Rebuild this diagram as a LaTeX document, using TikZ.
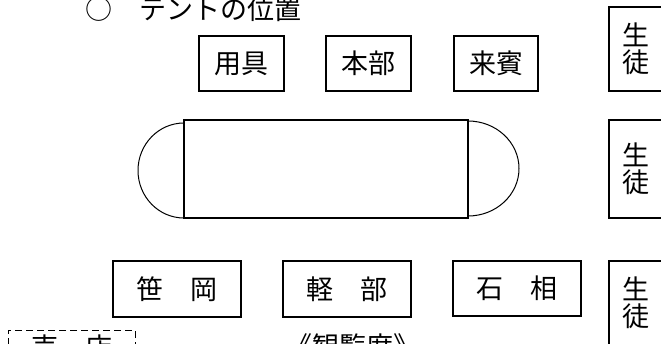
\documentclass[tikz,border=0pt]{standalone}
\usepackage{fontspec}
\newfontfamily\cjk{Noto Sans CJK JP}
\tikzset{
  lbl/.style={font=\cjk\fontsize{27}{27}\selectfont, inner sep=0pt},
  tent/.style={draw, line width=1.6pt, inner sep=0pt, font=\cjk\fontsize{27}{27}\selectfont},
  vtent/.style={tent, align=center},
  tentarc/.style={draw, line width=1pt},
  shop/.style={draw, dashed, dash pattern=on 7pt off 4pt, line width=0.8pt, inner sep=0pt, font=\cjk\fontsize{27}{27}\selectfont}
}
\begin{document}
\begin{tikzpicture}[x=1pt,y=1pt]
\clip (0,0) rectangle (661,343);
\fill[white] (0,0) rectangle (661,343);
% title
\node[lbl, anchor=west] (title) at (85,334) {○　テントの位置};
% top row
\node[tent, minimum width=85pt, minimum height=55pt] (yougu) at (241.5,279.5) {用具};
\node[tent, minimum width=85pt, minimum height=55pt] (honbu) at (368.5,279.5) {本部};
\node[tent, minimum width=84pt, minimum height=55pt] (raihin) at (496,279.5) {来賓};
% track
\node[draw, line width=1.6pt, minimum width=284pt, minimum height=98pt, inner sep=0pt] (track) at (326,174) {};
\draw[tentarc] (184,220) arc[start angle=90, end angle=270, x radius=46pt, y radius=47.5pt];
\draw[tentarc] (468,222) arc[start angle=90, end angle=-90, x radius=51pt, y radius=47.5pt];
% students
\node[vtent, minimum width=54pt, minimum height=84pt] (seito1) at (636,294) {生\\徒};
\node[vtent, minimum width=54pt, minimum height=98pt] (seito2) at (636,174) {生\\徒};
\node[vtent, minimum width=54pt, minimum height=84pt] (seito3) at (636,40) {生\\徒};
% bottom row
\node[tent, minimum width=128pt, minimum height=56pt] (sasaoka) at (177,54) {笹　岡};
\node[tent, minimum width=128pt, minimum height=56pt] (karube) at (347,54) {軽　部};
\node[tent, minimum width=128pt, minimum height=55pt] (ishiai) at (517,54.5) {石　相};
% shop and seats
\node[shop, minimum width=127pt, minimum height=35pt] (baiten) at (71.5,-4.5) {};
\node[lbl] (baitenlbl) at (72,-4) {売　店};
\node[lbl] (kanran) at (353,-3) {《観覧席》};
\end{tikzpicture}
\end{document}
